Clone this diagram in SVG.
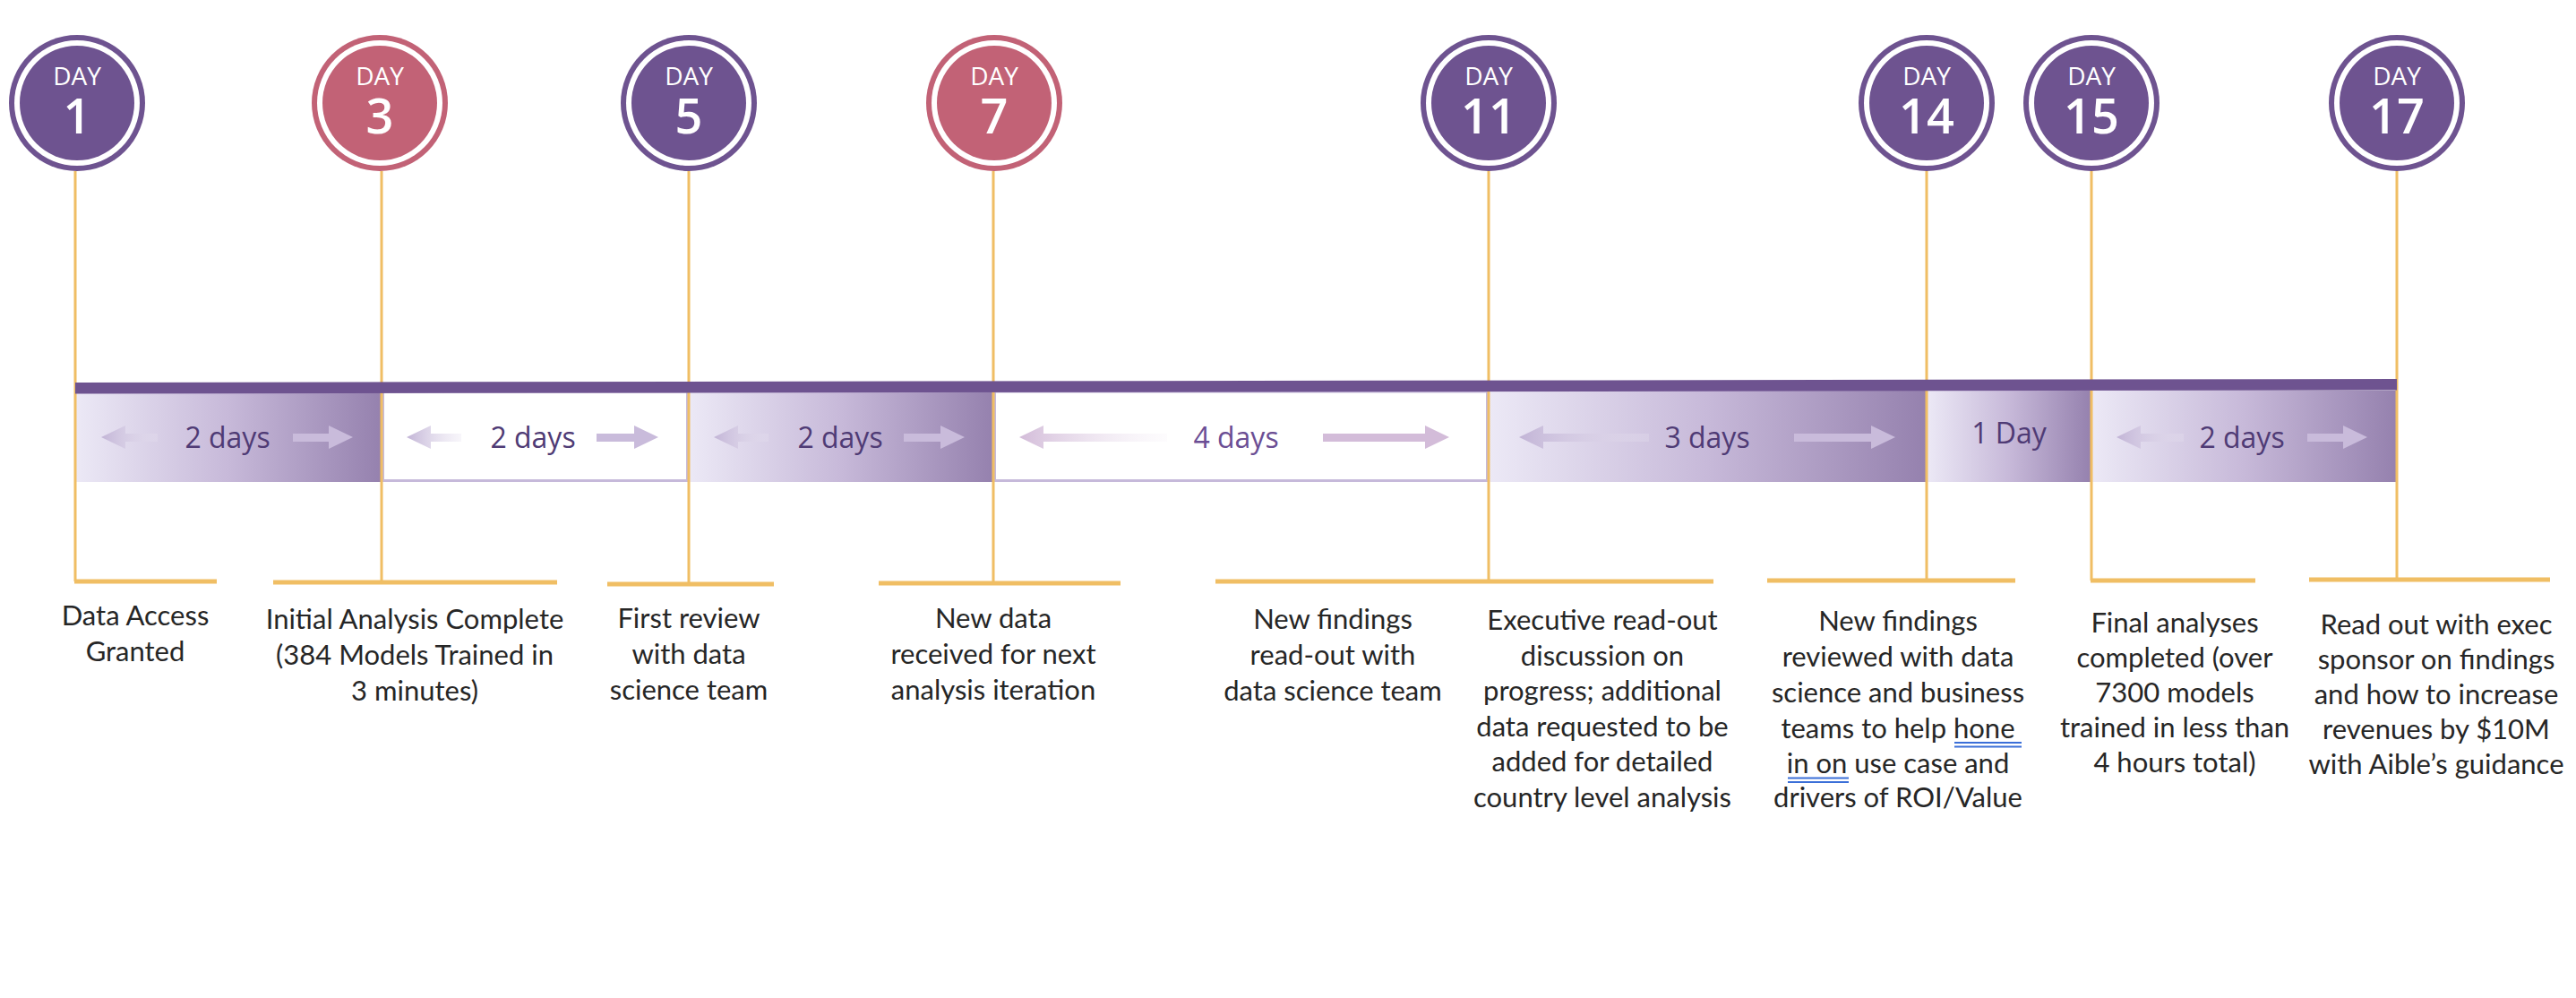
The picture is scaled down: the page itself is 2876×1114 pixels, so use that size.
<svg xmlns="http://www.w3.org/2000/svg" width="2876" height="1114" viewBox="0 0 2876 1114">
<defs>
<linearGradient id="seg" x1="0" y1="0" x2="1" y2="0">
<stop offset="0" stop-color="#ECE9F6"/>
<stop offset="0.5" stop-color="#C7B9D9"/>
<stop offset="1" stop-color="#9581AE"/>
</linearGradient>
<linearGradient id="fadeL" x1="0" y1="0" x2="1" y2="0">
<stop offset="0" stop-color="#C2B4D6" stop-opacity="1"/>
<stop offset="1" stop-color="#E6E0EF" stop-opacity="0.3"/>
</linearGradient>
<linearGradient id="fadeP" x1="0" y1="0" x2="1" y2="0">
<stop offset="0" stop-color="#D3BCD9" stop-opacity="1"/>
<stop offset="1" stop-color="#F4EEF6" stop-opacity="0.2"/>
</linearGradient>
<style>
.ring-p{fill:#6E5390}
.ring-r{fill:#C26276}
.gap{fill:#ffffff}
.badge{font-family:"Open Sans","Noto Sans",sans-serif;fill:#ffffff;text-anchor:middle}
.day{font-size:28px;font-weight:400}
.num{font-size:54px;font-weight:600}
.stem{stroke:#F0BE64;stroke-width:3;fill:none}
.foot{stroke:#F0BE64;stroke-width:5;fill:none}
.grad{fill:url(#seg)}
.open{fill:#ffffff;stroke:#C6B9DA;stroke-width:3}
.dur{font-family:"Open Sans","Noto Sans",sans-serif;font-size:32px;fill:#4F3B75;text-anchor:middle}
.dur-light{fill:#6B4E94}
.arR{fill:#C9BBDB}
.arL{fill:url(#fadeL)}
.arRp{fill:#D3BCD9}
.arLp{fill:url(#fadeP)}
.lbl{font-family:Lato,"Open Sans",sans-serif;font-size:31px;fill:#262626;text-anchor:middle}
.spell{stroke:#3B6FD8;stroke-width:2;fill:none}
</style>
</defs>
<rect width="2876" height="1114" fill="#ffffff"/>

<!-- duration segments -->
<g id="segments">
<g id="seg-1-3"><rect class="grad" x="84" y="436" width="342" height="102"/>
<path class="arL" d="M113,488 L140,475 L140,484 L176,484 L176,493 L140,493 L140,501 Z"/>
<path class="arR" d="M394,488 L367,475 L367,484 L327,484 L327,493 L367,493 L367,501 Z"/>
<text class="dur" x="254" y="500">2 days</text></g>
<g id="seg-3-5"><rect class="open" x="427.5" y="437" width="340" height="99.5"/>
<path class="arL" d="M454,488 L481,475 L481,484 L515,484 L515,493 L481,493 L481,501 Z"/>
<path class="arR" d="M735,488 L708,475 L708,484 L666,484 L666,493 L708,493 L708,501 Z"/>
<text class="dur" x="595" y="500">2 days</text></g>
<g id="seg-5-7"><rect class="grad" x="769" y="436" width="340" height="102"/>
<path class="arL" d="M797,488 L824,475 L824,484 L858,484 L858,493 L824,493 L824,501 Z"/>
<path class="arR" d="M1077,488 L1050,475 L1050,484 L1009,484 L1009,493 L1050,493 L1050,501 Z"/>
<text class="dur" x="938" y="500">2 days</text></g>
<g id="seg-7-11"><rect class="open" x="1110.5" y="437" width="550" height="99.5"/>
<path class="arLp" d="M1138,488 L1165,475 L1165,484 L1303,484 L1303,493 L1165,493 L1165,501 Z"/>
<path class="arRp" d="M1618,488 L1591,475 L1591,484 L1477,484 L1477,493 L1591,493 L1591,501 Z"/>
<text class="dur dur-light" x="1380" y="500">4 days</text></g>
<g id="seg-11-14"><rect class="grad" x="1662" y="436" width="489" height="102"/>
<path class="arL" d="M1696,488 L1723,475 L1723,484 L1841,484 L1841,493 L1723,493 L1723,501 Z"/>
<path class="arR" d="M2116,488 L2089,475 L2089,484 L2003,484 L2003,493 L2089,493 L2089,501 Z"/>
<text class="dur" x="1906" y="500">3 days</text></g>
<g id="seg-14-15"><rect class="grad" x="2151" y="436" width="184" height="102"/>
<text class="dur" x="2243" y="495">1 Day</text></g>
<g id="seg-15-17"><rect class="grad" x="2335" y="436" width="341" height="102"/>
<path class="arL" d="M2363,488 L2390,475 L2390,484 L2438,484 L2438,493 L2390,493 L2390,501 Z"/>
<path class="arR" d="M2643,488 L2616,475 L2616,484 L2576,484 L2576,493 L2616,493 L2616,501 Z"/>
<text class="dur" x="2503" y="500">2 days</text></g>
</g>

<!-- connectors: stems and brackets -->
<g id="connectors">
<path class="stem" d="M84,191 V649"/>
<path class="foot" d="M83,649 H242"/>
<path class="stem" d="M426,191 V650"/>
<path class="foot" d="M305,650 H622"/>
<path class="stem" d="M769,191 V652"/>
<path class="foot" d="M678,652 H864"/>
<path class="stem" d="M1109,191 V651"/>
<path class="foot" d="M981,651 H1251"/>
<path class="stem" d="M1662,191 V649"/>
<path class="foot" d="M1357,649 H1913"/>
<path class="stem" d="M2151,191 V648"/>
<path class="foot" d="M1973,648 H2250"/>
<path class="stem" d="M2335,191 V648"/>
<path class="foot" d="M2334,648 H2518"/>
<path class="stem" d="M2676,191 V647"/>
<path class="foot" d="M2578,647 H2847"/>
</g>

<!-- main bar -->
<g id="timeline-bar">
<polygon points="84,427 2676,423 2676,435.5 84,439.5" fill="#6E5390"/>
</g>

<!-- day nodes -->
<g id="day1"><circle class="ring-p" cx="86" cy="115" r="76"/><circle class="gap" cx="86" cy="115" r="70"/><circle class="ring-p" cx="86" cy="115" r="64"/>
<text class="badge"><tspan class="day" x="86" y="95">DAY</tspan><tspan class="num" x="86" y="149">1</tspan></text></g>
<g id="day3"><circle class="ring-r" cx="424" cy="115" r="76"/><circle class="gap" cx="424" cy="115" r="70"/><circle class="ring-r" cx="424" cy="115" r="64"/>
<text class="badge"><tspan class="day" x="424" y="95">DAY</tspan><tspan class="num" x="424" y="149">3</tspan></text></g>
<g id="day5"><circle class="ring-p" cx="769" cy="115" r="76"/><circle class="gap" cx="769" cy="115" r="70"/><circle class="ring-p" cx="769" cy="115" r="64"/>
<text class="badge"><tspan class="day" x="769" y="95">DAY</tspan><tspan class="num" x="769" y="149">5</tspan></text></g>
<g id="day7"><circle class="ring-r" cx="1110" cy="115" r="76"/><circle class="gap" cx="1110" cy="115" r="70"/><circle class="ring-r" cx="1110" cy="115" r="64"/>
<text class="badge"><tspan class="day" x="1110" y="95">DAY</tspan><tspan class="num" x="1110" y="149">7</tspan></text></g>
<g id="day11"><circle class="ring-p" cx="1662" cy="115" r="76"/><circle class="gap" cx="1662" cy="115" r="70"/><circle class="ring-p" cx="1662" cy="115" r="64"/>
<text class="badge"><tspan class="day" x="1662" y="95">DAY</tspan><tspan class="num" x="1662" y="149">11</tspan></text></g>
<g id="day14"><circle class="ring-p" cx="2151" cy="115" r="76"/><circle class="gap" cx="2151" cy="115" r="70"/><circle class="ring-p" cx="2151" cy="115" r="64"/>
<text class="badge"><tspan class="day" x="2151" y="95">DAY</tspan><tspan class="num" x="2151" y="149">14</tspan></text></g>
<g id="day15"><circle class="ring-p" cx="2335" cy="115" r="76"/><circle class="gap" cx="2335" cy="115" r="70"/><circle class="ring-p" cx="2335" cy="115" r="64"/>
<text class="badge"><tspan class="day" x="2335" y="95">DAY</tspan><tspan class="num" x="2335" y="149">15</tspan></text></g>
<g id="day17"><circle class="ring-p" cx="2676" cy="115" r="76"/><circle class="gap" cx="2676" cy="115" r="70"/><circle class="ring-p" cx="2676" cy="115" r="64"/>
<text class="badge"><tspan class="day" x="2676" y="95">DAY</tspan><tspan class="num" x="2676" y="149">17</tspan></text></g>

<!-- milestone labels -->
<g id="label-day1"><text class="lbl" x="151" y="698">Data Access</text><text class="lbl" x="151" y="738">Granted</text></g>
<g id="label-day3"><text class="lbl" x="463" y="702">Initial Analysis Complete</text><text class="lbl" x="463" y="742">(384 Models Trained in</text><text class="lbl" x="463" y="782">3 minutes)</text></g>
<g id="label-day5"><text class="lbl" x="769" y="701">First review</text><text class="lbl" x="769" y="741">with data</text><text class="lbl" x="769" y="781">science team</text></g>
<g id="label-day7"><text class="lbl" x="1109" y="701">New data</text><text class="lbl" x="1109" y="741">received for next</text><text class="lbl" x="1109" y="781">analysis iteration</text></g>
<g id="label-day11a"><text class="lbl" x="1488" y="702">New findings</text><text class="lbl" x="1488" y="742">read-out with</text><text class="lbl" x="1488" y="782">data science team</text></g>
<g id="label-day11b"><text class="lbl" x="1789" y="703">Executive read-out</text><text class="lbl" x="1789" y="742.5">discussion on</text><text class="lbl" x="1789" y="782">progress; additional</text><text class="lbl" x="1789" y="821.5">data requested to be</text><text class="lbl" x="1789" y="861">added for detailed</text><text class="lbl" x="1789" y="900.5">country level analysis</text></g>
<g id="label-day14"><text class="lbl" x="2119" y="704">New findings</text><text class="lbl" x="2119" y="744">reviewed with data</text><text class="lbl" x="2119" y="784">science and business</text><text class="lbl" x="2119" y="824">teams to help hone</text><text class="lbl" x="2119" y="863">in on use case and</text><text class="lbl" x="2119" y="901">drivers of ROI/Value</text>
<path class="spell" d="M2182,829 H2257 M2182,833.5 H2257 M1996,868.5 H2064 M1996,873 H2064"/></g>
<g id="label-day15"><text class="lbl" x="2428" y="706">Final analyses</text><text class="lbl" x="2428" y="745">completed (over</text><text class="lbl" x="2428" y="784">7300 models</text><text class="lbl" x="2428" y="823">trained in less than</text><text class="lbl" x="2428" y="862">4 hours total)</text></g>
<g id="label-day17"><text class="lbl" x="2720" y="708">Read out with exec</text><text class="lbl" x="2720" y="747">sponsor on findings</text><text class="lbl" x="2720" y="786">and how to increase</text><text class="lbl" x="2720" y="825">revenues by $10M</text><text class="lbl" x="2720" y="864">with Aible’s guidance</text></g>
</svg>
